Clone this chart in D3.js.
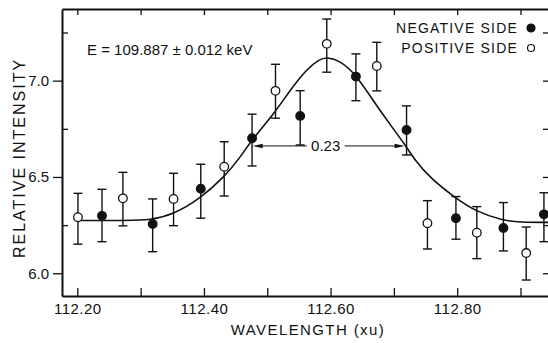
<!DOCTYPE html>
<html>
<head>
<meta charset="utf-8">
<script src="https://cdn.jsdelivr.net/npm/d3@7"></script>
<style>
  body { margin: 0; background: #fff; }
  svg { display: block; }
  text { font-family: "Liberation Sans", Arial, sans-serif; fill: #111; }
</style>
</head>
<body>
<svg width="548" height="343"></svg>
<script>
// measured points: wavelength (xu), relative intensity, error bar top/bottom
const side   = ['pos','neg','pos','neg','pos','neg','pos','neg','pos','neg','pos','neg','pos','neg','pos','neg','pos','neg','pos','neg'];
const wave   = [112.201,112.239,112.272,112.319,112.352,112.395,112.432,112.476,112.513,112.552,112.594,112.640,112.673,112.720,112.753,112.798,112.831,112.873,112.909,112.937];
const inten  = [6.291,6.298,6.389,6.256,6.386,6.439,6.553,6.701,6.947,6.817,7.191,7.021,7.076,6.744,6.260,6.286,6.211,6.235,6.105,6.306];
const errTop = [6.415,6.436,6.524,6.386,6.519,6.566,6.683,6.826,7.085,6.948,7.320,7.139,7.199,6.869,6.377,6.398,6.346,6.367,6.240,6.418];
const errBot = [6.151,6.164,6.246,6.112,6.247,6.286,6.401,6.557,6.805,6.666,7.044,6.896,6.947,6.614,6.126,6.177,6.076,6.116,5.965,6.164];

// fitted curve
const fitX = [112.200,112.280,112.315,112.352,112.394,112.432,112.457,112.476,112.510,112.536,112.562,112.583,112.594,112.615,112.640,112.668,112.694,112.720,112.733,112.757,112.794,112.831,112.873,112.899,112.944];
const fitY = [6.274,6.274,6.276,6.306,6.388,6.500,6.600,6.695,6.825,6.950,7.060,7.112,7.122,7.104,7.032,6.893,6.772,6.657,6.588,6.496,6.398,6.318,6.273,6.265,6.264];

const fwhm = [112.477, 112.717], fwhmLevel = 6.661, fwhmLabel = '0.23';
const xTicks = [112.2,112.3,112.4,112.5,112.6,112.7,112.8,112.9];
const xLabels = [112.2,112.4,112.6,112.8];
const yMajor = [6.0,6.5,7.0];
const yMinor = [6.25,6.75,7.25];
const energyNote = 'E = 109.887 \u00b1 0.012 keV';
const legendItems = [['NEGATIVE SIDE', 'neg'], ['POSITIVE SIDE', 'pos']];

const svg = d3.select('svg'),
    margin = {top: 9, right: -1, bottom: 47, left: 62},
    width = 548 - margin.left - margin.right,
    height = 343 - margin.top - margin.bottom;

const x = d3.scaleLinear().domain([112.1758, 112.945]).range([0, width]);
const y = d3.scaleLinear().domain([5.882, 7.372]).range([height, 0]);

const g = svg.append('g')
    .attr('transform', 'translate(' + margin.left + ',' + margin.top + ')');

function styleAxis(sel) {
  sel.select('.domain').attr('stroke', '#111').attr('stroke-width', 2);
  sel.selectAll('.tick line').attr('stroke', '#111').attr('stroke-width', 1.3);
  sel.selectAll('.tick text').style('font-size', '15px').attr('fill', '#111');
}

// bottom axis, ticks inward
g.append('g')
    .attr('transform', 'translate(0,' + height + ')')
    .call(d3.axisBottom(x).tickValues(xTicks).tickSizeInner(-8).tickSizeOuter(0).tickPadding(7)
      .tickFormat(d => xLabels.some(v => Math.abs(v - d) < 1e-6) ? d3.format('.2f')(d) : ''))
    .call(styleAxis)
    .selectAll('.tick text').style('letter-spacing', '0.5px');

// top axis
g.append('g')
    .call(d3.axisTop(x).tickValues(xTicks).tickSizeInner(-6).tickSizeOuter(0).tickFormat(''))
    .call(styleAxis);

// left axis: labelled ticks outward, minor inward
g.append('g')
    .call(d3.axisLeft(y).tickValues(yMajor).tickSizeInner(9).tickSizeOuter(0).tickPadding(4).tickFormat(d3.format('.1f')))
    .call(styleAxis);
g.append('g')
    .call(d3.axisLeft(y).tickValues(yMinor).tickSizeInner(-6).tickSizeOuter(0).tickFormat(''))
    .call(styleAxis)
    .select('.domain').remove();

// right axis
g.append('g')
    .attr('transform', 'translate(' + width + ',0)')
    .call(d3.axisRight(y).tickValues(yMajor.concat(yMinor)).tickSizeInner(-6).tickSizeOuter(0).tickFormat(''))
    .call(styleAxis);

// axis titles
svg.append('text')
    .attr('transform', 'translate(25,158) rotate(-90)')
    .attr('text-anchor', 'middle')
    .style('font-size', '16px')
    .style('letter-spacing', '2px')
    .text('RELATIVE INTENSITY');

svg.append('text')
    .attr('x', 308).attr('y', 335)
    .attr('text-anchor', 'middle')
    .style('font-size', '15px')
    .style('letter-spacing', '1.4px')
    .text('WAVELENGTH (xu)');

// fit curve
g.append('path')
    .datum(fitX.map((v, i) => [v, fitY[i]]))
    .attr('fill', 'none')
    .attr('stroke', '#111')
    .attr('stroke-width', 1.6)
    .attr('d', d3.line().x(d => x(d[0])).y(d => y(d[1])).curve(d3.curveBasis));

// FWHM marker
const mid = y(fwhmLevel);
const cx = x((fwhm[0] + fwhm[1]) / 2);
g.append('text')
    .attr('x', cx - 3).attr('y', mid + 5)
    .attr('text-anchor', 'middle')
    .style('font-size', '15px')
    .text(fwhmLabel);
g.append('line')
    .attr('x1', x(fwhm[0]) + 8).attr('x2', cx - 22)
    .attr('y1', mid).attr('y2', mid)
    .attr('stroke', '#111').attr('stroke-width', 1);
g.append('line')
    .attr('x1', cx + 16).attr('x2', x(fwhm[1]) - 8)
    .attr('y1', mid).attr('y2', mid)
    .attr('stroke', '#111').attr('stroke-width', 1);
g.append('path')
    .attr('d', 'M' + x(fwhm[0]) + ',' + mid + 'l10,-2.2v4.4z')
    .attr('fill', '#111');
g.append('path')
    .attr('d', 'M' + x(fwhm[1]) + ',' + mid + 'l-10,-2.2v4.4z')
    .attr('fill', '#111');

// error bars
const pts = wave.map((v, i) => ({x: v, y: inten[i], hi: errTop[i], lo: errBot[i], side: side[i]}));
const eb = g.append('g').attr('stroke', '#111').attr('stroke-width', 1.4);
eb.selectAll('line.v').data(pts).enter().append('line')
    .attr('x1', d => x(d.x)).attr('x2', d => x(d.x))
    .attr('y1', d => y(d.hi)).attr('y2', d => y(d.lo));
eb.selectAll('line.t').data(pts).enter().append('line')
    .attr('x1', d => x(d.x) - 4.5).attr('x2', d => x(d.x) + 4.5)
    .attr('y1', d => y(d.hi)).attr('y2', d => y(d.hi));
eb.selectAll('line.b').data(pts).enter().append('line')
    .attr('x1', d => x(d.x) - 4.5).attr('x2', d => x(d.x) + 4.5)
    .attr('y1', d => y(d.lo)).attr('y2', d => y(d.lo));

// points
g.append('g').selectAll('circle').data(pts).enter().append('circle')
    .attr('cx', d => x(d.x))
    .attr('cy', d => y(d.y))
    .attr('r', 4.3)
    .attr('fill', d => d.side === 'neg' ? '#111' : '#fff')
    .attr('stroke', '#111')
    .attr('stroke-width', 1.3);

// annotation
svg.append('text')
    .attr('x', 87).attr('y', 55)
    .style('font-size', '15px')
    .text(energyNote);

// legend
const leg = svg.append('g').selectAll('g').data(legendItems).enter().append('g')
    .attr('transform', (d, i) => 'translate(0,' + (33 + i * 20) + ')');
leg.append('text')
    .attr('x', 518).attr('text-anchor', 'end')
    .style('font-size', '14px')
    .style('letter-spacing', '1.2px')
    .text(d => d[0]);
leg.append('circle')
    .attr('cx', 531).attr('cy', -5)
    .attr('r', d => d[1] === 'neg' ? 4 : 3.5)
    .attr('fill', d => d[1] === 'neg' ? '#111' : '#fff')
    .attr('stroke', '#111').attr('stroke-width', 1.2);
</script>
</body>
</html>
